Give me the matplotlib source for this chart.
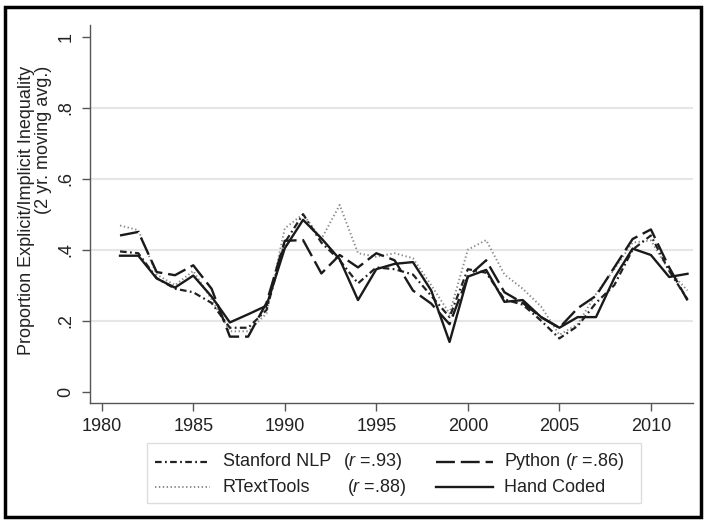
import matplotlib
matplotlib.use("Agg")
import matplotlib.pyplot as plt
from matplotlib.lines import Line2D
from matplotlib.patches import Rectangle

plt.rcParams.update({
    'font.family': 'Liberation Sans',
    'mathtext.fontset': 'custom',
    'mathtext.rm': 'Liberation Sans',
    'mathtext.it': 'Liberation Sans:italic',
})

years = list(range(1981, 2013))

stanford = [0.395, 0.39, 0.32, 0.29, 0.28, 0.25, 0.18, 0.18, 0.23, 0.42, 0.50, 0.42, 0.37, 0.305, 0.35, 0.345,
            0.33, 0.27, 0.21, 0.345, 0.335, 0.26, 0.245, 0.20, 0.15, 0.185, 0.25, 0.30, 0.40, 0.44, 0.34, 0.26]
rtext = [0.468, 0.455, 0.33, 0.30, 0.34, 0.26, 0.17, 0.17, 0.22, 0.46, 0.50, 0.43, 0.526, 0.39, 0.38, 0.39,
         0.376, 0.30, 0.22, 0.40, 0.427, 0.33, 0.29, 0.24, 0.16, 0.19, 0.275, 0.345, 0.42, 0.426, 0.34, 0.285]
python = [0.44, 0.45, 0.337, 0.328, 0.356, 0.29, 0.155, 0.155, 0.25, 0.425, 0.427, 0.333, 0.385, 0.35, 0.39, 0.37,
          0.285, 0.248, 0.19, 0.324, 0.37, 0.28, 0.25, 0.21, 0.18, 0.235, 0.27, 0.35, 0.43, 0.457, 0.35, 0.257]
hand = [0.383, 0.383, 0.319, 0.293, 0.327, 0.268, 0.195, 0.218, 0.242, 0.404, 0.484, 0.432, 0.373, 0.258, 0.345, 0.36,
        0.365, 0.285, 0.14, 0.324, 0.343, 0.253, 0.258, 0.21, 0.18, 0.21, 0.21, 0.32, 0.403, 0.385, 0.323, 0.332]

yticks = [0, 0.2, 0.4, 0.6, 0.8, 1]
ytick_labels = ["0", ".2", ".4", ".6", ".8", "1"]
xticks = [1980, 1985, 1990, 1995, 2000, 2005, 2010]

W, H = 705, 521
fig = plt.figure(figsize=(W / 100, H / 100), dpi=100)
ax = fig.add_axes([90 / W, 1 - 403 / H, (693 - 90) / W, (403 - 25) / H])

# estilos de linea
estilos = {
    'stanford': dict(color='#222222', lw=1.6, dashes=(3, 1.5, 0.8, 1.5)),
    'rtext': dict(color='#8a8a8a', lw=1.4, dashes=(0.7, 1.3)),
    'python': dict(color='#1a1a1a', lw=1.7, dashes=(8, 2.5)),
    'hand': dict(color='#1a1a1a', lw=1.7),
}

ax.plot(years, rtext, **estilos['rtext'])
ax.plot(years, stanford, **estilos['stanford'])
ax.plot(years, python, **estilos['python'])
ax.plot(years, hand, **estilos['hand'])

ax.set_xlim(1979.36, 2012.3)
ax.set_ylim(-0.032, 1.033)
ax.set_yticks(yticks)
ax.set_yticklabels(ytick_labels, rotation=90, va='center')
ax.set_xticks(xticks)
for g in [0.2, 0.4, 0.6, 0.8]:
    ax.axhline(g, color='#e6e6e6', lw=1.5, zorder=0)

for s in ['top', 'right']:
    ax.spines[s].set_visible(False)
for s in ['left', 'bottom']:
    ax.spines[s].set_color('#555555')
    ax.spines[s].set_linewidth(1.0)
ax.tick_params(axis='both', colors='#555555', labelcolor='#222222', labelsize=13, length=6, width=1.0)
ax.tick_params(axis='y', pad=5)
ax.tick_params(axis='x', pad=5)

fig.text(35 / W, 1 - 66 / H, "Proportion Explicit/Implicit Inequality\n(2 yr. moving avg.)",
         rotation=90, rotation_mode='anchor', ha='right', va='center', multialignment='right',
         fontsize=13, color='#222222', linespacing=0.95)

# leyenda manual
fig.add_artist(Rectangle((147 / W, 1 - 503 / H), (641 - 147) / W, 60 / H, transform=fig.transFigure,
                         facecolor='white', edgecolor='#dddddd', lw=1.0))


def fila(y, x0, x1, estilo, nombre, xn, r, xr):
    yf = 1 - y / H
    fig.add_artist(Line2D([x0 / W, x1 / W], [yf, yf], transform=fig.transFigure, **estilos[estilo]))
    fig.text(xn / W, yf, nombre, ha='left', va='center', fontsize=13, color='#222222')
    if r:
        fig.text(xr / W, yf, "(" + r"$\it{r}$" + " =" + r + ")", ha='left', va='center', fontsize=13, color='#222222')


fila(462, 155, 210, 'stanford', "Stanford NLP", 223, ".93", 343)
fila(487, 155, 210, 'rtext', "RTextTools", 223, ".88", 347)
fila(462, 436, 493, 'python', "Python", 504, ".86", 565)
fila(487, 436, 493, 'hand', "Hand Coded", 504, None, 0)

# marco exterior
fig.add_artist(Rectangle((5 / W, 1 - 517 / H), (701 - 5) / W, (517 - 7) / H, transform=fig.transFigure,
                         facecolor='none', edgecolor='black', lw=2.5))

fig.savefig("out.png", dpi=100)
